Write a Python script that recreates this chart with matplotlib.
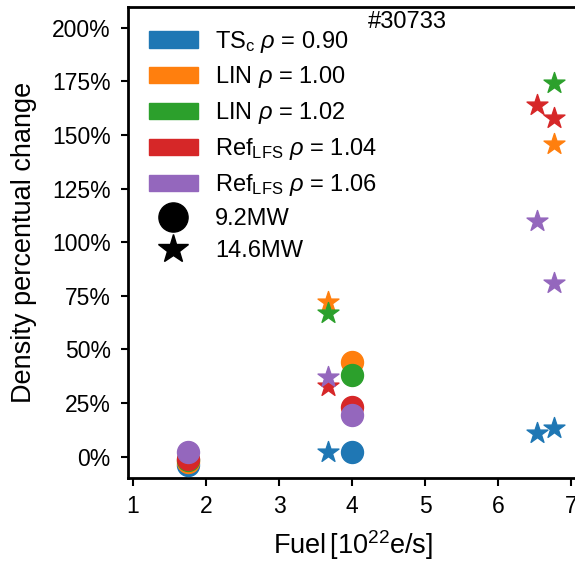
import numpy as np
import matplotlib
matplotlib.use("Agg")
import matplotlib.pyplot as plt
from matplotlib.patches import Patch
from matplotlib.lines import Line2D
from matplotlib.ticker import PercentFormatter

plt.rcParams['font.family'] = ['Liberation Sans', 'DejaVu Sans']
plt.rcParams['mathtext.fontset'] = 'custom'
plt.rcParams['mathtext.rm'] = 'Liberation Sans'
plt.rcParams['mathtext.it'] = 'Liberation Sans:italic'
plt.rcParams['mathtext.bf'] = 'Liberation Sans:bold'

# fuelling rates [1e22 e/s]
fuel_92 = [1.75, 4.0]           # 9.2MW (circles)
fuel_146 = [3.67, 6.53, 6.77]   # 14.6MW (stars)

labels = [r'TS$_\mathrm{c}$ $\rho$ = 0.90',
          r'LIN $\rho$ = 1.00',
          r'LIN $\rho$ = 1.02',
          r'Ref$_\mathrm{LFS}$ $\rho$ = 1.04',
          r'Ref$_\mathrm{LFS}$ $\rho$ = 1.06']
colors = ['tab:blue', 'tab:orange', 'tab:green', 'tab:red', 'tab:purple']

# density percentual change [%]
change_92 = [
    [-4.0, 2.0],
    [-2.5, 44.0],
    [-1.5, 38.0],
    [-1.0, 23.0],
    [2.0, 19.5],
]
change_146 = [
    [2.0, 11.0, 13.5],
    [72.0, np.nan, 146.0],
    [67.0, np.nan, 174.0],
    [33.0, 164.0, 158.0],
    [37.0, 110.0, 81.0],
]

fig = plt.figure(figsize=(5.75, 5.62), dpi=100)
ax = fig.add_axes([0.2226, 0.1495, 0.783, 0.8375])

for c, y1, y2 in zip(colors, change_92, change_146):
    ax.scatter(fuel_92, y1, s=250, marker='o', color=c, zorder=3)
    ax.scatter(fuel_146, y2, s=250, marker='*', color=c, zorder=3)

ax.set_xlim(0.93, 7.1)
ax.set_ylim(-9.9, 209.5)
ax.set_xticks([1, 2, 3, 4, 5, 6, 7])
ax.set_yticks(np.arange(0, 201, 25))
ax.yaxis.set_major_formatter(PercentFormatter(decimals=0))
ax.tick_params(labelsize=16.5, width=1.5, length=5.4, pad=7)
for s in ax.spines.values():
    s.set_linewidth(2)

ax.set_xlabel(r'Fuel$\,[10^{22}\mathrm{e/s}]$', fontsize=19.5, labelpad=7)
ax.set_ylabel('Density percentual change', fontsize=19.5, labelpad=11)

ax.text(0.533, 0.992, '#30733', transform=ax.transAxes, fontsize=17,
        ha='left', va='top')

handles = [Patch(color=c, label=l) for c, l in zip(colors, labels)]
handles.append(Line2D([], [], ls='none', marker='o', color='k', markersize=21, label='9.2MW'))
handles.append(Line2D([], [], ls='none', marker='*', color='k', markersize=22, label='14.6MW'))
ax.legend(handles=handles, loc='upper left', frameon=False, fontsize=17,
          handlelength=2.05, labelspacing=0.42, handletextpad=0.75)

fig.savefig('out.png', dpi=100)
